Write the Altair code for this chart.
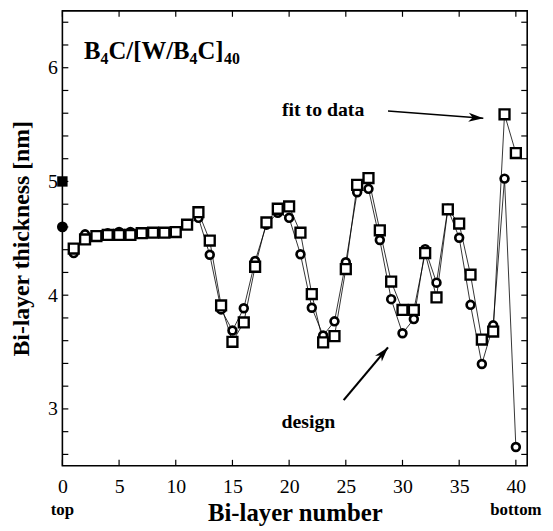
import altair as alt
import pandas as pd

SERIF = "Liberation Serif"

# ---------------- data ----------------
layers = list(range(1, 41))
fit_nm = [4.41, 4.49, 4.52, 4.53, 4.53, 4.53, 4.545, 4.55, 4.55, 4.555,
          4.62, 4.73, 4.48, 3.91, 3.59, 3.76, 4.25, 4.64, 4.76, 4.78,
          4.55, 4.01, 3.585, 3.64, 4.23, 4.97, 5.03, 4.57, 4.12, 3.87,
          3.87, 4.37, 3.98, 4.755, 4.63, 4.18, 3.61, 3.68, 5.59, 5.25]
design_nm = [4.37, 4.535, 4.52, 4.545, 4.555, 4.555, 4.545, 4.55, 4.55, 4.555,
             4.62, 4.68, 4.355, 3.875, 3.69, 3.885, 4.30, 4.62, 4.725, 4.68,
             4.36, 3.89, 3.645, 3.77, 4.29, 4.905, 4.935, 4.485, 3.965, 3.665,
             3.79, 4.405, 4.11, 4.76, 4.505, 3.915, 3.395, 3.735, 5.025, 2.665]
ref_layer = [0]
ref_fit = [5.0]
ref_design = [4.6]

x_tick_values = [0, 5, 10, 15, 20, 25, 30, 35, 40]
y_label_values = [3, 4, 5, 6]
y_tick_values = [2.6, 2.8, 3.0, 3.2, 3.4, 3.6, 3.8, 4.0, 4.2, 4.4, 4.6, 4.8,
                 5.0, 5.2, 5.4, 5.6, 5.8, 6.0, 6.2, 6.4]

end_labels = ["top", "bottom"]
end_label_x = [0, 40]

# annotation texts (data coordinates)
note_text = ["fit to data", "design"]
note_x = [23.0, 21.7]
note_y = [5.576, 2.83]

# arrows: tail -> head
arrow_x = [28.72, 24.81]
arrow_y = [5.62, 3.077]
arrow_x2 = [37.13, 28.72]
arrow_y2 = [5.555, 3.541]
arrow_angle = [94.4, 40.1]
arrow_width = [1.5, 2.2]

# title pieces B4C/[W/B4C]40
title_parts = ["B", "4", "C/[W/B", "4", "C]", "40"]
title_sub = [False, True, False, True, False, True]
title_dx = [0, 16.7, 24.7, 106.6, 114.6, 141.5]
title_x = 1.91
title_y = 6.08

W, H = 470, 460

# ---------------- frames ----------------
df_fit = pd.DataFrame({"layer": layers, "nm": fit_nm})
df_des = pd.DataFrame({"layer": layers, "nm": design_nm})
df_ref_fit = pd.DataFrame({"layer": ref_layer, "nm": ref_fit})
df_ref_des = pd.DataFrame({"layer": ref_layer, "nm": ref_design})

xs = alt.Scale(domain=[0, 41], nice=False, zero=False)
ys = alt.Scale(domain=[2.5, 6.5], nice=False, zero=False)

x_axis = alt.Axis(values=x_tick_values, ticks=False, domain=False, grid=False,
                  labelFont=SERIF, labelFontSize=20, labelColor="black",
                  labelPadding=11, labelFlush=False, labelOverlap=False,
                  title="Bi-layer number", titleFont=SERIF, titleFontSize=25,
                  titleFontWeight="bold", titleColor="black",
                  titleX=235, titleY=55, titleBaseline="alphabetic")
y_axis = alt.Axis(values=y_label_values, ticks=False, domain=False, grid=False,
                  labelFont=SERIF, labelFontSize=20, labelColor="black",
                  labelPadding=5, labelFlush=False, labelOverlap=False,
                  title="Bi-layer thickness [nm]", titleFont=SERIF,
                  titleFontSize=24, titleFontWeight="bold", titleColor="black",
                  titleX=-34, titleY=230, titleBaseline="alphabetic",
                  titleAngle=270)

X = alt.X("layer:Q", scale=xs, axis=x_axis)
Y = alt.Y("nm:Q", scale=ys, axis=y_axis)

line_fit = alt.Chart(df_fit).mark_line(color="black", strokeWidth=0.8).encode(x=X, y=Y)
line_des = alt.Chart(df_des).mark_line(color="black", strokeWidth=0.8).encode(x=X, y=Y)

circ = alt.Chart(df_des).mark_point(shape="circle", filled=True, fill="white",
                                    stroke="black", strokeWidth=2.7, size=62,
                                    opacity=1).encode(x=X, y=Y)
sq = alt.Chart(df_fit).mark_point(shape="square", filled=True, fill="white",
                                  stroke="black", strokeWidth=2.4, size=100,
                                  opacity=1).encode(x=X, y=Y)
ref_sq = alt.Chart(df_ref_fit).mark_point(shape="square", filled=True, color="black",
                                          size=110, opacity=1).encode(x=X, y=Y)
ref_c = alt.Chart(df_ref_des).mark_point(shape="circle", filled=True, color="black",
                                         size=120, opacity=1).encode(x=X, y=Y)

# inward ticks
df_xt = pd.DataFrame({"layer": x_tick_values})
df_yt = pd.DataFrame({"nm": y_tick_values})
tk = dict(color="black", strokeWidth=1.2)
xt_bot = alt.Chart(df_xt).mark_rule(**tk).encode(x=X, y=alt.value(H), y2=alt.value(H - 6))
xt_top = alt.Chart(df_xt).mark_rule(**tk).encode(x=X, y=alt.value(0), y2=alt.value(6))
yt_left = alt.Chart(df_yt).mark_rule(**tk).encode(y=Y, x=alt.value(0), x2=alt.value(6))
yt_right = alt.Chart(df_yt).mark_rule(**tk).encode(y=Y, x=alt.value(W), x2=alt.value(W - 6))

# top / bottom labels
df_end = pd.DataFrame({"layer": end_label_x, "t": end_labels})
end_txt = alt.Chart(df_end).mark_text(font=SERIF, fontSize=17, fontWeight="bold",
                                      color="black", baseline="middle", align="center").encode(
    x=X, y=alt.value(505), text="t:N")

# notes
df_note = pd.DataFrame({"layer": note_x, "nm": note_y, "t": note_text})
note_txt = alt.Chart(df_note).mark_text(font=SERIF, fontSize=20, fontWeight="bold",
                                        color="black", baseline="alphabetic",
                                        align="center").encode(x=X, y=Y, text="t:N")

# arrows
df_arr = pd.DataFrame({"layer": arrow_x, "nm": arrow_y, "x2": arrow_x2, "y2": arrow_y2,
                       "w": arrow_width})
arr_lines = alt.Chart(df_arr).mark_rule(color="black").encode(
    x=X, y=Y, x2="x2:Q", y2="y2:Q",
    strokeWidth=alt.StrokeWidth("w:Q", scale=None, legend=None))
df_head = pd.DataFrame({"layer": arrow_x2, "nm": arrow_y2, "ang": arrow_angle})
arr_heads = alt.Chart(df_head).mark_point(
    shape="M0,0 L0.6,2 L0,1.45 L-0.6,2 Z", filled=True, color="black",
    size=225, opacity=1, strokeWidth=0).encode(
    x=X, y=Y, angle=alt.Angle("ang:Q", scale=None, legend=None))

# title pieces
title_layers = []
for part, sub, dx in zip(title_parts, title_sub, title_dx):
    dft = pd.DataFrame({"layer": [title_x], "nm": [title_y], "t": [part]})
    title_layers.append(
        alt.Chart(dft).mark_text(font=SERIF, fontSize=16 if sub else 25,
                                 fontWeight="bold", color="black", align="left",
                                 baseline="alphabetic", dx=dx, dy=5 if sub else 0).encode(
            x=X, y=Y, text="t:N"))

chart = alt.layer(
    line_des, line_fit, circ, sq, ref_sq, ref_c,
    xt_bot, xt_top, yt_left, yt_right, end_txt, note_txt, arr_lines, arr_heads,
    *title_layers
).properties(
    width=W, height=H,
    padding={"left": 55, "top": 0, "right": 18, "bottom": 58},
    autosize=alt.AutoSizeParams(type="none"),
    background="white",
).configure_view(stroke="black", strokeWidth=1.6)

chart.save("out.html", embed_options={"renderer": "svg", "actions": False})
